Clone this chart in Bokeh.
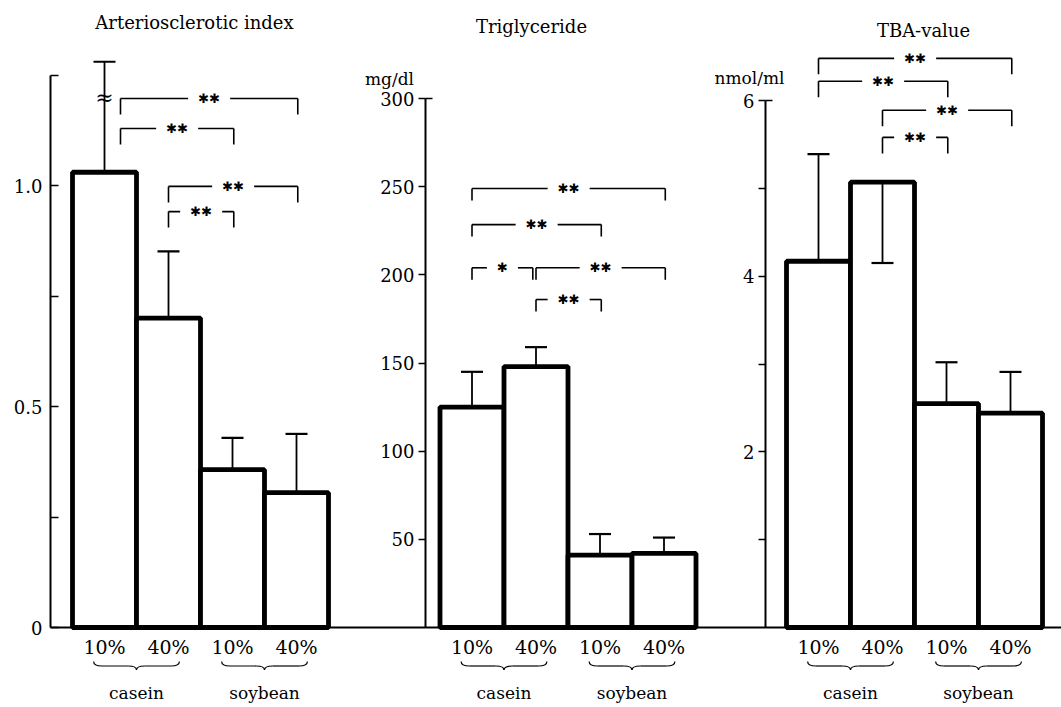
from bokeh.plotting import figure
from bokeh.models import Range1d, LinearAxis, FixedTicker
from bokeh.embed import file_html
from bokeh.resources import INLINE
from bokeh.core.properties import value

# ---------------- data ----------------
levels = ["10%", "40%", "10%", "40%"]
group_names = ["casein", "soybean"]
titles = ["Arteriosclerotic index", "Triglyceride", "TBA-value"]
units = ["", "mg/dl", "nmol/ml"]

ai_mean = [1.03, 0.70, 0.357, 0.305]
ai_se = [0.25, 0.151, 0.072, 0.133]
tg_mean = [125, 148, 41, 42]
tg_se = [20, 11, 12, 9]
tba_mean = [4.17, 5.07, 2.55, 2.44]
tba_se = [1.22, 0.92, 0.47, 0.47]
tba_err_sign = [1, -1, 1, 1]

ai_ticks = [0, 0.25, 0.5, 0.75, 1.0, 1.25]
ai_tick_labels = ["0", "", "0.5", "", "1.0", ""]
tg_ticks = [50, 100, 150, 200, 250, 300]
tg_tick_labels = ["50", "100", "150", "200", "250", "300"]
tba_ticks = [1, 2, 3, 4, 5, 6]
tba_tick_labels = ["", "2", "", "4", "", "6"]

# significance brackets: (label, bar a, bar b, level)
ai_sig = [("**", 1, 4, 1.197), ("**", 1, 3, 1.129), ("**", 2, 4, 0.998), ("**", 2, 3, 0.941)]
tg_sig = [("**", 1, 4, 249), ("**", 1, 3, 228.5), ("*", 1, 2, 204), ("**", 2, 4, 204), ("**", 2, 3, 186)]
tba_sig = [("**", 1, 4, 6.48), ("**", 1, 3, 6.22), ("**", 2, 4, 5.89), ("**", 2, 3, 5.58)]

# ---------------- layout ----------------
W, H = 1061, 707
BAR_PX = 64.0
ZERO_Y = 627.0                       # page y of the zero line
SCALES = [442.0, 1.7633, 87.83]      # px per data unit in each panel
RNAMES = ["default", "tg", "tba"]
FIRST_BAR = [104 / BAR_PX, 471.5 / BAR_PX, 818 / BAR_PX]
AXIS_X = [50 / BAR_PX, 425 / BAR_PX, 765 / BAR_PX]
SERIF = "DejaVu Serif"


def yr(i):
    s = SCALES[i]
    return Range1d(-(H - ZERO_Y) / s, ZERO_Y / s)


def py(page_y):  # page pixel -> panel-1 data units
    return (ZERO_Y - page_y) / SCALES[0]


def pxx(page_x):
    return page_x / BAR_PX


p = figure(width=W, height=H, x_range=Range1d(0, W / BAR_PX), y_range=yr(0),
           x_axis_location=None, y_axis_location=None, toolbar_location=None,
           output_backend="svg", min_border=0, outline_line_color=None,
           background_fill_color="white", border_fill_color="white")
p.extra_y_ranges = {"tg": yr(1), "tba": yr(2)}
p.xgrid.grid_line_color = None
p.ygrid.grid_line_color = None

panels = [
    (ai_mean, ai_se, [1, 1, 1, 1], ai_ticks, ai_tick_labels, ai_sig),
    (tg_mean, tg_se, [1, 1, 1, 1], tg_ticks, tg_tick_labels, tg_sig),
    (tba_mean, tba_se, tba_err_sign, tba_ticks, tba_tick_labels, tba_sig),
]
DROP_PX = [16, 12, 16]

x_ticks, x_labels = [], {}
for k, (mean, se, sign, ticks, tlabels, sig) in enumerate(panels):
    rn = RNAMES[k]
    s = SCALES[k]
    xs = [FIRST_BAR[k] + i for i in range(len(mean))]
    for x, lv in zip(xs, levels):
        x_ticks.append(x)
        x_labels[x] = lv

    # bars
    p.vbar(x=xs, top=mean, bottom=0, width=1.0, fill_color="white",
           line_color="black", line_width=4.8, y_range_name=rn)
    # error bars
    ends = [m + d * e for m, e, d in zip(mean, se, sign)]
    p.segment(x0=xs, y0=mean, x1=xs, y1=ends, line_color="black",
              line_width=1.8, y_range_name=rn)
    p.scatter(x=xs, y=ends, marker="dash", size=22, line_color="black",
              line_width=2.2, y_range_name=rn)

    # y axis
    ax = LinearAxis(fixed_location=AXIS_X[k], ticker=FixedTicker(ticks=ticks),
                    bounds=(0, ticks[-1]),
                    major_label_overrides={t: l for t, l in zip(ticks, tlabels)},
                    axis_line_width=2, axis_line_color="black",
                    major_tick_line_width=1.5, major_tick_line_color="black",
                    minor_tick_line_color=None,
                    major_label_text_font=SERIF, major_label_text_font_size="18px",
                    major_label_text_color="black")
    if k == 0:
        ax.major_tick_in, ax.major_tick_out, ax.major_label_standoff = 8, 0, 8
    else:
        ax.major_tick_in, ax.major_tick_out, ax.major_label_standoff = 0, 7, 4
        p.segment(x0=[AXIS_X[k]], y0=[ticks[-1]], x1=[AXIS_X[k] + 7 / BAR_PX],
                  y1=[ticks[-1]], line_color="black", line_width=1.5, y_range_name=rn)
    if rn != "default":
        ax.y_range_name = rn
    p.add_layout(ax, "left")

    # significance brackets
    drop = DROP_PX[k] / s
    x0s, y0s, x1s, y1s = [], [], [], []
    tx, ty, tt = [], [], []
    for lab, a, b, lvl in sig:
        xl = xs[a - 1] + (0.25 if (k == 0 and a == 1) else 0.0)
        xr = xs[b - 1] + (-0.05 if (k == 1 and lab == "*") else 0.02)
        xm = (xl + xr) / 2
        half = (6 + 11 * len(lab) / 2 + 4) / BAR_PX
        x0s += [xl, xl, xm + half, xr]
        y0s += [lvl - drop, lvl, lvl, lvl]
        x1s += [xl, xm - half, xr, xr]
        y1s += [lvl, lvl, lvl, lvl - drop]
        tx.append(xm)
        ty.append(lvl)
        tt.append("\u2731" * len(lab))
    p.segment(x0=x0s, y0=y0s, x1=x1s, y1=y1s, line_color="black",
              line_width=1.6, y_range_name=rn)
    p.text(x=tx, y=ty, text=tt, text_font=value("DejaVu Sans"),
           text_font_size="13px", text_align="center", text_baseline="middle",
           text_color="black", y_range_name=rn)

    # group braces and names (drawn in panel-1 units under the baseline)
    yt, ym, yb = py(661), py(665.5), py(669.5)
    a = 0.13
    for g in range(2):
        xl = xs[2 * g] - 0.17
        xr = xs[2 * g + 1] + 0.17
        xc = (xl + xr) / 2
        p.quadratic(x0=[xl, xc - a, xc, xr - a], y0=[yt, ym, yb, ym],
                    x1=[xl + a, xc, xc + a, xr], y1=[ym, yb, ym, yt],
                    cx=[xl, xc, xc, xr], cy=[ym, ym, ym, ym],
                    line_color="black", line_width=1.2)
        p.segment(x0=[xl + a, xc + a], y0=[ym, ym], x1=[xc - a, xr - a], y1=[ym, ym],
                  line_color="black", line_width=1.2)
        p.text(x=[xc], y=[py(692)], text=[group_names[g]], text_font=value(SERIF),
               text_font_size="17px", text_align="center", text_baseline="middle",
               text_color="black")

# axis break mark on the first error bar
p.text(x=[FIRST_BAR[0]], y=[1.199], text=["\u2248"], text_font=value(SERIF),
       text_font_size="22px", text_align="center", text_baseline="middle",
       text_color="black")

# titles and unit labels
title_px = [(194, 22), (531, 26), (923, 30)]
for t, (tx_, ty_) in zip(titles, title_px):
    p.text(x=[pxx(tx_)], y=[py(ty_)], text=[t], text_font=value(SERIF),
           text_font_size="18px", text_align="center", text_baseline="middle",
           text_color="black")
unit_px = [None, (389, 78), (749, 77)]
for u, pos in zip(units, unit_px):
    if pos:
        p.text(x=[pxx(pos[0])], y=[py(pos[1])], text=[u], text_font=value(SERIF),
               text_font_size="17px", text_align="center", text_baseline="middle",
               text_color="black")

# x axis = common baseline with level labels
xa = LinearAxis(fixed_location=0, ticker=FixedTicker(ticks=x_ticks),
                major_label_overrides=x_labels, bounds=(AXIS_X[0], W / BAR_PX),
                axis_line_width=2, axis_line_color="black",
                major_tick_line_color=None, minor_tick_line_color=None,
                major_label_standoff=2, major_label_text_font=SERIF,
                major_label_text_font_size="19px", major_label_text_color="black")
p.add_layout(xa, "below")

open("out.html", "w").write(file_html(p, INLINE))
